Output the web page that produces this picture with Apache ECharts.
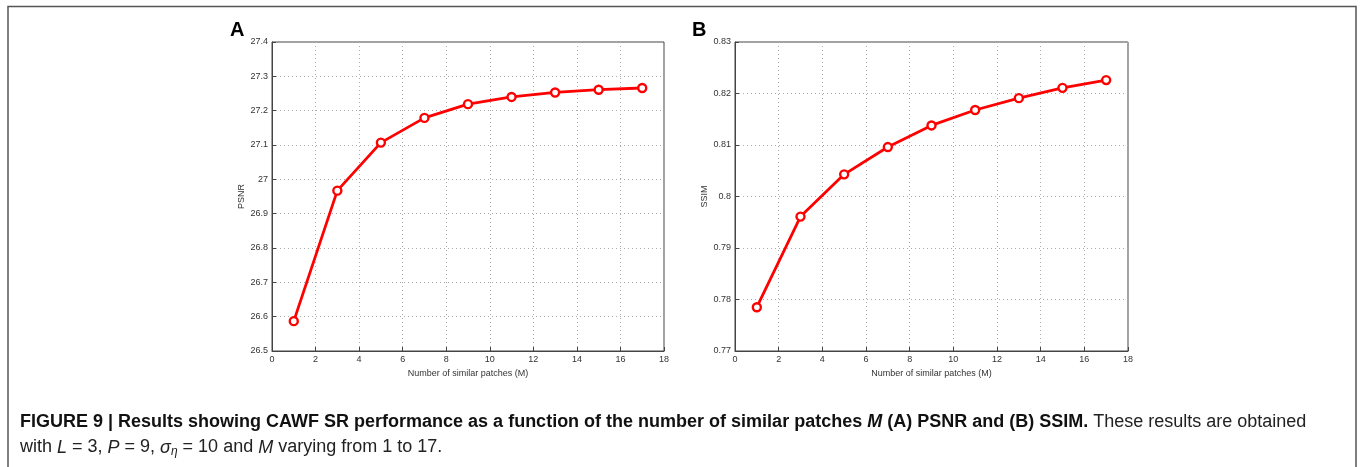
<!DOCTYPE html>
<html>
<head>
<meta charset="utf-8">
<script src="https://cdn.jsdelivr.net/npm/echarts@6/dist/echarts.min.js"></script>
<style>
  html, body { margin: 0; padding: 0; background: #fff; }
  #chart { width: 1362px; height: 467px; }
</style>
</head>
<body>
<div id="chart"></div>
<script>
// number of similar patches M
var patches = [1, 3, 5, 7, 9, 11, 13, 15, 17];
// panel A: PSNR
var psnr = [26.587, 26.967, 27.107, 27.179, 27.219, 27.240, 27.253, 27.261, 27.266];
// panel B: SSIM
var ssim = [0.7785, 0.7961, 0.8043, 0.8096, 0.8138, 0.8168, 0.8191, 0.8211, 0.8226];

var font = 'Liberation Sans';

function pairs(xs, ys) {
  return xs.map(function (x, i) { return [x, ys[i]]; });
}

function xAxisFor(idx) {
  return {
    gridIndex: idx, type: 'value', min: 0, max: 18, interval: 2,
    name: 'Number of similar patches (M)', nameLocation: 'middle', nameGap: 8,
    nameTextStyle: { fontFamily: font, fontSize: 9, color: '#333' },
    axisLine: { lineStyle: { color: '#444', width: 1 } },
    axisTick: { inside: true, length: 4, lineStyle: { color: '#444' } },
    axisLabel: { fontFamily: font, fontSize: 9, color: '#333', margin: 4 },
    splitLine: { show: true, lineStyle: { color: '#aaa', type: [1, 3], width: 1 } }
  };
}

function yAxisFor(idx, name, min, max, step) {
  return {
    gridIndex: idx, type: 'value', min: min, max: max, interval: step,
    name: name, nameLocation: 'middle', nameGap: 26,
    nameTextStyle: { fontFamily: font, fontSize: 9, color: '#333' },
    axisLine: { show: true, lineStyle: { color: '#444', width: 1 } },
    axisTick: { show: true, inside: true, length: 4, lineStyle: { color: '#444' } },
    axisLabel: { fontFamily: font, fontSize: 9, color: '#333', margin: 4 },
    splitLine: { show: true, lineStyle: { color: '#aaa', type: [1, 3], width: 1 } }
  };
}

function lineSeries(idx, data) {
  return {
    type: 'line', xAxisIndex: idx, yAxisIndex: idx, data: data,
    symbol: 'circle', symbolSize: 8, showAllSymbol: true,
    lineStyle: { color: '#f00', width: 2.8 },
    itemStyle: { color: '#fff', borderColor: '#f00', borderWidth: 2.4 },
    emphasis: { disabled: true }, animation: false
  };
}

var fs = 18;
var chart = echarts.init(document.getElementById('chart'));
var option = {
  backgroundColor: '#fff',
  animation: false,
  title: [
    { text: 'A', left: 225, top: 15, textStyle: { fontFamily: font, fontSize: 20, fontWeight: 'bold', color: '#000' } },
    { text: 'B', left: 687, top: 15, textStyle: { fontFamily: font, fontSize: 20, fontWeight: 'bold', color: '#000' } },
    {
      left: 15, top: 405,
      text: '{b|FIGURE 9 | Results showing CAWF SR performance as a function of the number of similar patches }{bi|M}{b| (A) PSNR and (B) SSIM.}{n| These results are obtained}\n' +
            '{n|with }{i|L}{n| = 3, }{i|P}{n| = 9, }{i|σ}{sub|η}{n| = 10 and }{i|M}{n| varying from 1 to 17.}',
      textStyle: {
        fontWeight: 'normal', fontSize: fs, lineHeight: 25,
        rich: {
          b: { fontFamily: font, fontSize: fs, fontWeight: 'bold', color: '#111', lineHeight: 25 },
          bi: { fontFamily: font, fontSize: fs, fontWeight: 'bold', fontStyle: 'italic', color: '#111', lineHeight: 25 },
          n: { fontFamily: font, fontSize: fs, fontWeight: 'normal', color: '#222', lineHeight: 25 },
          i: { fontFamily: font, fontSize: fs, fontWeight: 'normal', fontStyle: 'italic', color: '#222', lineHeight: 25 },
          sub: { fontFamily: font, fontSize: 12, fontWeight: 'normal', fontStyle: 'italic', color: '#222', lineHeight: 25, padding: [9, 0, 0, 0] }
        }
      }
    }
  ],
  graphic: [
    { type: 'polyline', shape: { points: [[8, 480], [8, 6.5], [1356, 6.5], [1356, 480]] },
      style: { stroke: '#555', lineWidth: 1.5, fill: null }, silent: true }
  ],
  grid: [
    { left: 272, top: 42, width: 392, height: 309, show: true, borderColor: '#444', borderWidth: 1 },
    { left: 735, top: 42, width: 393, height: 309, show: true, borderColor: '#444', borderWidth: 1 }
  ],
  xAxis: [xAxisFor(0), xAxisFor(1)],
  yAxis: [yAxisFor(0, 'PSNR', 26.5, 27.4, 0.1), yAxisFor(1, 'SSIM', 0.77, 0.83, 0.01)],
  series: [lineSeries(0, pairs(patches, psnr)), lineSeries(1, pairs(patches, ssim))]
};
chart.setOption(option);
</script>
</body>
</html>
